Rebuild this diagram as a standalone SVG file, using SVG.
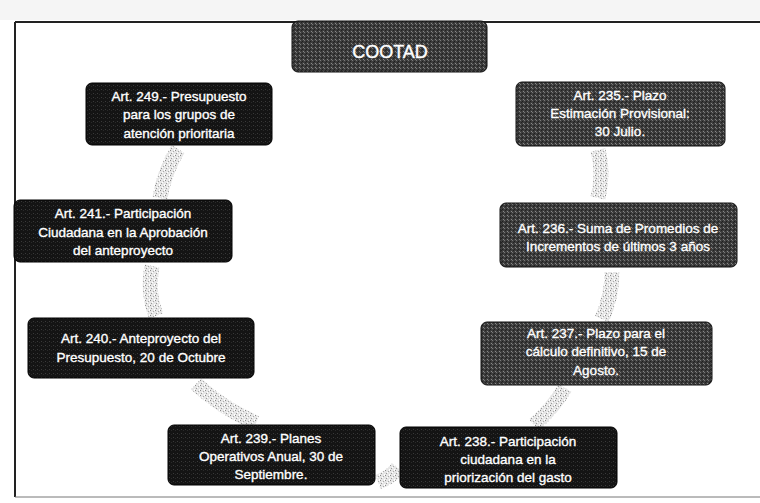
<svg xmlns="http://www.w3.org/2000/svg" width="760" height="503" viewBox="0 0 760 503">
<defs>
<pattern id="speck" width="5" height="5" patternUnits="userSpaceOnUse">
<rect width="5" height="5" fill="#e6e6e6"/>
<rect x="0" y="0" width="1" height="1" fill="#8a8a8a"/>
<rect x="3" y="1" width="1" height="1" fill="#a8a8a8"/>
<rect x="1" y="3" width="1" height="1" fill="#9a9a9a"/>
<rect x="4" y="4" width="1" height="1" fill="#fff"/>
<rect x="2" y="2" width="1" height="1" fill="#fff"/>
<rect x="4" y="0" width="1" height="1" fill="#fff"/>
</pattern>
<pattern id="greyfill" width="4" height="4" patternUnits="userSpaceOnUse">
<rect width="4" height="4" fill="#3c3c3c"/>
<rect x="0" y="0" width="1" height="1" fill="#777"/>
<rect x="2" y="1" width="1" height="1" fill="#1e1e1e"/>
<rect x="3" y="3" width="1" height="1" fill="#888"/>
<rect x="1" y="2" width="1" height="1" fill="#222"/>
</pattern>
<pattern id="darkfill" width="4" height="4" patternUnits="userSpaceOnUse">
<rect width="4" height="4" fill="#141414"/>
<rect x="1" y="1" width="1" height="1" fill="#3a3a3a"/>
<rect x="3" y="2" width="1" height="1" fill="#2a2a2a"/>
</pattern>
</defs>
<style>
.dark{fill:url(#darkfill);stroke:#000;stroke-width:1}
.grey{fill:url(#greyfill);stroke:#111;stroke-width:1}
.t{font-family:"Liberation Sans","DejaVu Sans",sans-serif;font-size:13.5px;fill:#fff;stroke:#fff;stroke-width:0.35;text-anchor:middle}
.title{font-family:"Liberation Sans","DejaVu Sans",sans-serif;font-size:18px;fill:#fff;stroke:#fff;stroke-width:0.4;text-anchor:middle}
.arc{fill:none;stroke:url(#speck);stroke-width:15;stroke-linecap:butt}
</style>
<rect width="760" height="503" fill="#fff"/>
<rect x="0" y="0" width="760" height="20" fill="#f5f5f5"/>
<g id="frame" fill="none" stroke="#222">
<line x1="15" y1="22" x2="760" y2="22" stroke-width="2"/>
<line x1="15" y1="22" x2="15" y2="497" stroke-width="2"/>
<line x1="15" y1="497" x2="760" y2="497" stroke-width="1" stroke="#777"/>
</g>
<g id="connectors">
<path class="arc" d="M 598 150 Q 604 173 598 198"/>
<path class="arc" d="M 612 272 Q 612 296 602 319"/>
<path class="arc" d="M 565 388 Q 553 408 534 425"/>
<path class="arc" d="M 398 468 Q 390 478 378 482"/>
<path class="arc" d="M 196 384 Q 222 408 256 423"/>
<path class="arc" d="M 152 266 Q 147 292 156 316"/>
<path class="arc" d="M 178 149 Q 164 172 160 198"/>
</g>
<g id="cootad">
<rect class="grey" x="292" y="21" width="195" height="51" rx="6"/>
<text class="title" x="390" y="58">COOTAD</text>
</g>
<g id="art249">
<rect class="dark" x="86" y="83" width="186" height="62" rx="6"/>
<text class="t" x="179" y="101">Art. 249.- Presupuesto</text>
<text class="t" x="179" y="119">para los grupos de</text>
<text class="t" x="179" y="138">atención prioritaria</text>
</g>
<g id="art235">
<rect class="grey" x="516" y="82" width="209" height="64" rx="6"/>
<text class="t" x="620" y="100">Art. 235.- Plazo</text>
<text class="t" x="620" y="118">Estimación Provisional:</text>
<text class="t" x="620" y="136">30 Julio.</text>
</g>
<g id="art241">
<rect class="dark" x="14" y="200" width="218" height="62" rx="6"/>
<text class="t" x="123" y="218">Art. 241.- Participación</text>
<text class="t" x="123" y="237">Ciudadana en la Aprobación</text>
<text class="t" x="123" y="255">del anteproyecto</text>
</g>
<g id="art236">
<rect class="grey" x="500" y="203" width="237" height="64" rx="6"/>
<text class="t" x="618" y="233">Art. 236.- Suma de Promedios de</text>
<text class="t" x="618" y="251">Incrementos de últimos 3 años</text>
</g>
<g id="art240">
<rect class="dark" x="28" y="318" width="226" height="60" rx="6"/>
<text class="t" x="141" y="343">Art. 240.- Anteproyecto del</text>
<text class="t" x="141" y="362">Presupuesto, 20 de Octubre</text>
</g>
<g id="art237">
<rect class="grey" x="481" y="322" width="231" height="63" rx="6"/>
<text class="t" x="596" y="338">Art. 237.- Plazo para el</text>
<text class="t" x="596" y="356">cálculo definitivo, 15 de</text>
<text class="t" x="596" y="375">Agosto.</text>
</g>
<g id="art239">
<rect class="dark" x="168" y="425" width="207" height="60" rx="6"/>
<text class="t" x="271" y="443">Art. 239.- Planes</text>
<text class="t" x="271" y="461">Operativos Anual, 30 de</text>
<text class="t" x="271" y="479">Septiembre.</text>
</g>
<g id="art238">
<rect class="dark" x="400" y="427" width="217" height="61" rx="6"/>
<text class="t" x="508" y="446">Art. 238.- Participación</text>
<text class="t" x="508" y="464">ciudadana en la</text>
<text class="t" x="508" y="482">priorización del gasto</text>
</g>
</svg>
